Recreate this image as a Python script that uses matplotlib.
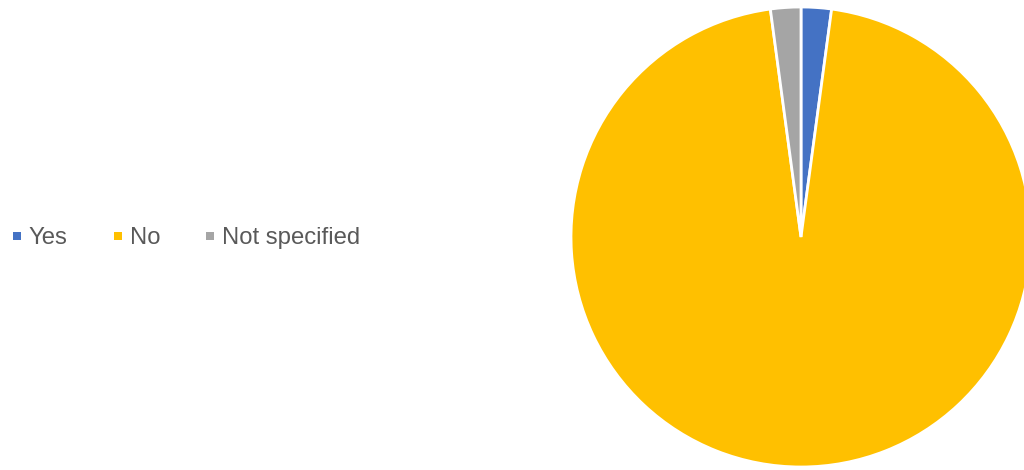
import matplotlib.pyplot as plt
from matplotlib.lines import Line2D

# data
labels = ['Yes', 'No', 'Not specified']
counts = [1, 45, 1]
colors = ['#4472C4', '#FFC000', '#A5A5A5']

plt.rcParams['font.family'] = ['Liberation Sans', 'DejaVu Sans']

fig = plt.figure(figsize=(10.24, 4.70), dpi=100)

# pie axes: center at (801, 237) px, radius 230 px
W, H = 1024, 470
cx, cy, r = 801, 237, 230
ax = fig.add_axes([(cx - r) / W, (H - cy - r) / H, 2 * r / W, 2 * r / H])
wedges, _ = ax.pie(counts, colors=colors, startangle=90, counterclock=False,
                   radius=1, wedgeprops=dict(edgecolor='white', linewidth=2))
ax.set_xlim(-1, 1)
ax.set_ylim(-1, 1)
ax.set_aspect('auto')
ax.axis('off')

handles = [Line2D([], [], linestyle='none', marker='s', markersize=6,
                  markerfacecolor=c, markeredgewidth=0) for c in colors]
leg = fig.legend(handles, labels, loc='center left', bbox_to_anchor=(0.0, (H - cy - 1) / H),
                 ncol=3, frameon=False, fontsize=17.2, handlelength=0.4,
                 handletextpad=0.3, columnspacing=1.9, borderaxespad=0.1)
for t in leg.get_texts():
    t.set_color('#595959')

fig.savefig('out.png', dpi=100)
